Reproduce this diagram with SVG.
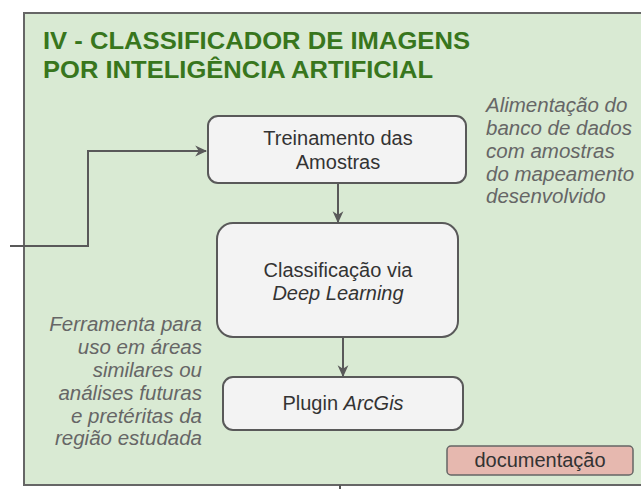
<svg xmlns="http://www.w3.org/2000/svg" width="641" height="489" viewBox="0 0 641 489">
<defs>
<marker id="arr" viewBox="0 0 10 10" refX="9" refY="5" markerWidth="12" markerHeight="12" markerUnits="userSpaceOnUse" orient="auto">
<path d="M0,0.5 L10,5 L0,9.5 L3,5 Z" fill="#595959"/>
</marker>
<style>
.frame{fill:#d9ead3;stroke:#666666;stroke-width:2}
.box{fill:#f3f3f3;stroke:#595959;stroke-width:2}
.doc{fill:#e6b8af;stroke:#666666;stroke-width:1.5}
.title{font-family:"Liberation Sans",Arial,sans-serif;font-weight:bold;font-size:24px;fill:#38761d}
.lbl{font-family:"Liberation Sans",Arial,sans-serif;font-size:20px;fill:#333333;text-anchor:middle}
.note{font-family:"Liberation Sans",Arial,sans-serif;font-size:20.5px;font-style:italic;fill:#666666}
.conn{fill:none;stroke:#595959;stroke-width:2}
</style>
</defs>
<rect width="641" height="489" fill="#ffffff"/>
<g id="frame">
<rect class="frame" x="24" y="13" width="630" height="472"/>
<text class="title" x="43" y="49" textLength="427" lengthAdjust="spacingAndGlyphs">IV - CLASSIFICADOR DE IMAGENS</text>
<text class="title" x="43" y="78" textLength="390" lengthAdjust="spacingAndGlyphs">POR INTELIGÊNCIA ARTIFICIAL</text>
</g>
<g id="connectors">
<path class="conn" d="M10,246 H88 V151 H206" marker-end="url(#arr)"/>
<path class="conn" d="M338,183 V222" marker-end="url(#arr)"/>
<path class="conn" d="M343,337 V376" marker-end="url(#arr)"/>
<path class="conn" d="M340,485 V489"/>
</g>
<g id="treinamento">
<rect class="box" x="208" y="116" width="258" height="67" rx="10"/>
<text class="lbl" x="338" y="145">Treinamento das</text>
<text class="lbl" x="338" y="169">Amostras</text>
</g>
<g id="classificacao">
<rect class="box" x="217" y="223" width="241" height="114" rx="16"/>
<text class="lbl" x="338" y="277">Classificação via</text>
<text class="lbl" x="338" y="300" font-style="italic">Deep Learning</text>
</g>
<g id="plugin">
<rect class="box" x="223" y="377" width="240" height="53" rx="10"/>
<text class="lbl" x="343" y="410">Plugin <tspan font-style="italic">ArcGis</tspan></text>
</g>
<g id="documentacao">
<rect class="doc" x="447" y="446" width="186" height="29" rx="4"/>
<text class="lbl" x="540" y="467">documentação</text>
</g>
<g id="nota-direita">
<text class="note" x="486" y="112">Alimentação do</text>
<text class="note" x="486" y="135">banco de dados</text>
<text class="note" x="486" y="158">com amostras</text>
<text class="note" x="486" y="181">do mapeamento</text>
<text class="note" x="486" y="203">desenvolvido</text>
</g>
<g id="nota-esquerda" text-anchor="end">
<text class="note" x="202" y="331">Ferramenta para</text>
<text class="note" x="202" y="354">uso em áreas</text>
<text class="note" x="202" y="377">similares ou</text>
<text class="note" x="202" y="400">análises futuras</text>
<text class="note" x="202" y="423">e pretéritas da</text>
<text class="note" x="202" y="445">região estudada</text>
</g>
</svg>
